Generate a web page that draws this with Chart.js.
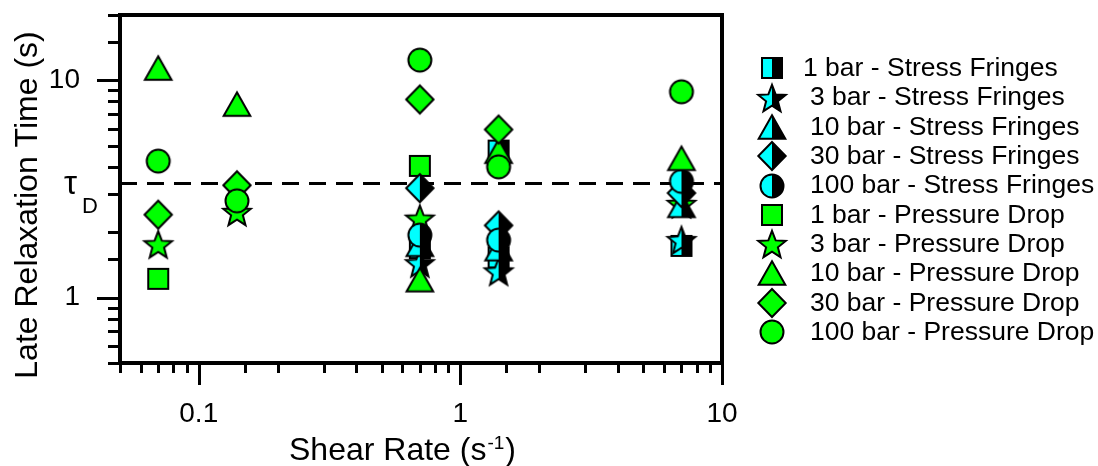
<!DOCTYPE html>
<html>
<head>
<meta charset="utf-8">
<script src="https://cdn.jsdelivr.net/npm/chart.js@4/dist/chart.umd.min.js"></script>
<style>
	body { margin: 0; background: #fff; }
	canvas { display: block; }
</style>
</head>
<body>
<canvas id="plot" width="1098" height="466"></canvas>
<script>
// values (shear rate in 1/s, relaxation time in s)
var sf1X = [0.7, 1.4, 1.4, 7];
var sf1Y = [1.69, 4.75, 1.53, 1.73];
var sf3X = [0.7, 1.4, 7];
var sf3Y = [1.44, 1.32, 1.84];
var sf10X = [0.7, 1.4, 7];
var sf10Y = [1.76, 1.68, 2.66];
var sf30X = [0.7, 1.4, 7];
var sf30Y = [3.19, 2.15, 3.03];
var sf100X = [0.7, 1.4, 7];
var sf100Y = [1.94, 1.84, 3.43];
var pd1X = [0.07, 0.7];
var pd1Y = [1.22, 4.04];
var pd3X = [0.07, 0.14, 0.7, 7];
var pd3Y = [1.76, 2.48, 2.31, 2.7];
var pd10X = [0.07, 0.14, 0.7, 1.4, 7];
var pd10Y = [11.4, 7.78, 1.21, 4.72, 4.38];
var pd30X = [0.07, 0.14, 0.7, 1.4];
var pd30Y = [2.41, 3.29, 8.17, 5.94];
var pd100X = [0.07, 0.14, 0.7, 1.4, 7];
var pd100Y = [4.25, 2.79, 12.4, 4.0, 8.86];
var tauD = 3.35;

var seriesLabels = [
	"1 bar - Stress Fringes", "3 bar - Stress Fringes", "10 bar - Stress Fringes",
	"30 bar - Stress Fringes", "100 bar - Stress Fringes",
	"1 bar - Pressure Drop", "3 bar - Pressure Drop", "10 bar - Pressure Drop",
	"30 bar - Pressure Drop", "100 bar - Pressure Drop"
];
var xTickLabels = [0.1, 1, 10];
var yTickLabels = [1, 10];
var xRange = [0.05, 10];
var yRange = [0.5, 20];

var FONT = "'Liberation Sans', Arial, sans-serif";
var GREEN = "#00ff00";
var CYAN = "#00ffff";

function shapePath(ctx, shape) {
	ctx.beginPath();
	if (shape == "square") {
		ctx.rect(-10, -10, 20, 20);
	} else if (shape == "circle") {
		ctx.arc(0, 0, 11.5, 0, Math.PI * 2);
	} else if (shape == "triangle") {
		ctx.moveTo(0, -11.7);
		ctx.lineTo(13.3, 11.7);
		ctx.lineTo(-13.3, 11.7);
		ctx.closePath();
	} else if (shape == "diamond") {
		ctx.moveTo(0, -14);
		ctx.lineTo(13.7, 0);
		ctx.lineTo(0, 14);
		ctx.lineTo(-13.7, 0);
		ctx.closePath();
	} else if (shape == "star") {
		var R = 14.5, r = 6.2;
		for (var i = 0; i < 10; i++) {
			var a = -Math.PI / 2 + i * Math.PI / 5;
			var rad = (i % 2 == 0) ? R : r;
			var px = Math.cos(a) * rad, py = Math.sin(a) * rad + 1.4;
			if (i == 0) ctx.moveTo(px, py); else ctx.lineTo(px, py);
		}
		ctx.closePath();
	}
}

// marker bitmaps used as chart.js point styles
function makeMarker(shape, half) {
	var c = document.createElement("canvas");
	c.width = 34; c.height = 34;
	var ctx = c.getContext("2d");
	ctx.translate(17, 17);
	shapePath(ctx, shape);
	if (half) {
		ctx.fillStyle = CYAN;
		ctx.fill();
		ctx.save();
		ctx.beginPath();
		ctx.rect(0, -17, 17, 34);
		ctx.clip();
		shapePath(ctx, shape);
		ctx.fillStyle = "#000";
		ctx.fill();
		ctx.restore();
		shapePath(ctx, shape);
	} else {
		ctx.fillStyle = GREEN;
		ctx.fill();
	}
	ctx.lineWidth = 2;
	ctx.lineJoin = "miter";
	ctx.strokeStyle = "#000";
	ctx.stroke();
	return c;
}

function toPoints(xs, ys) {
	var pts = [];
	for (var i = 0; i < xs.length; i++) pts.push({x: xs[i], y: ys[i]});
	return pts;
}

var shapes = ["square", "star", "triangle", "diamond", "circle"];
var seriesX = [sf1X, sf3X, sf10X, sf30X, sf100X, pd1X, pd3X, pd10X, pd30X, pd100X];
var seriesY = [sf1Y, sf3Y, sf10Y, sf30Y, sf100Y, pd1Y, pd3Y, pd10Y, pd30Y, pd100Y];
// higher order = drawn further back
var drawOrder = [8, 7, 6, 5, 4, 10, 9, 3, 2, 1];
var markers = [];

var datasets = [];
for (var i = 0; i < 10; i++) {
	markers.push(makeMarker(shapes[i % 5], i < 5));
	datasets.push({
		label: seriesLabels[i],
		data: toPoints(seriesX[i], seriesY[i]),
		pointStyle: markers[i],
		pointRadius: 12,
		order: drawOrder[i]
	});
}
datasets.push({
	type: "line",
	label: "tauD",
	data: [{x: xRange[0], y: tauD}, {x: xRange[1], y: tauD}],
	borderColor: "#000",
	borderWidth: 3,
	borderDash: [17, 10],
	pointRadius: 0,
	order: 20
});

function isDecade(v) {
	var l = Math.log10(v);
	return Math.abs(l - Math.round(l)) < 1e-6;
}

function labelFor(list) {
	return function (v) {
		for (var i = 0; i < list.length; i++) {
			if (Math.abs(v - list[i]) < list[i] * 1e-6) return String(list[i]);
		}
		return "";
	};
}

var framePlugin = {
	id: "frame",
	afterDraw: function (chart) {
		var ctx = chart.ctx, a = chart.chartArea;
		var xs = chart.scales.x, ys = chart.scales.y;
		ctx.save();
		ctx.strokeStyle = "#000";
		ctx.lineWidth = 3;
		ctx.beginPath();
		xs.ticks.forEach(function (t) {
			var px = Math.round(xs.getPixelForValue(t.value)) + 0.5;
			ctx.moveTo(px, a.bottom);
			ctx.lineTo(px, a.bottom + (isDecade(t.value) ? 22 : 10));
		});
		ys.ticks.forEach(function (t) {
			var py = Math.round(ys.getPixelForValue(t.value)) + 0.5;
			ctx.moveTo(a.left, py);
			ctx.lineTo(a.left - (isDecade(t.value) ? 23 : 12), py);
		});
		ctx.stroke();
		ctx.lineWidth = 4;
		ctx.strokeRect(a.left, a.top, a.right - a.left, a.bottom - a.top);

		ctx.fillStyle = "#000";
		// tau_D marker next to the dashed line
		var ty = ys.getPixelForValue(tauD);
		ctx.textAlign = "left";
		ctx.textBaseline = "alphabetic";
		ctx.font = "33px " + FONT;
		ctx.fillText("\u03c4", 64, ty + 10);
		ctx.font = "22px " + FONT;
		ctx.fillText("D", 82, ty + 29);

		// axis titles
		ctx.font = "32px " + FONT;
		ctx.fillText("Shear Rate (s", 289, 460);
		var w = ctx.measureText("Shear Rate (s").width;
		ctx.font = "19px " + FONT;
		ctx.fillText("-1", 289 + w + 1, 449);
		var w2 = ctx.measureText("-1").width;
		ctx.font = "32px " + FONT;
		ctx.fillText(")", 289 + w + w2 + 2, 460);

		ctx.save();
		ctx.translate(37, 205);
		ctx.rotate(-Math.PI / 2);
		ctx.textAlign = "center";
		ctx.fillText("Late Relaxation Time (s)", 0, 0);
		ctx.restore();

		// legend, text slightly wider than the plain font as in the figure
		ctx.font = "25px " + FONT;
		ctx.textBaseline = "middle";
		for (var i = 0; i < 10; i++) {
			var ry = 68.3 + i * 29.3;
			ctx.drawImage(markers[i], 772 - 17, Math.round(ry) - 17);
			ctx.save();
			ctx.translate(i == 0 ? 803 : 810, ry + 1);
			ctx.scale(1.06, 1);
			ctx.fillText(seriesLabels[i], 0, 0);
			ctx.restore();
		}
		ctx.restore();
	}
};

var tickFont = {family: FONT, size: 28};

var chart = new Chart(document.getElementById("plot"), {
	type: "scatter",
	data: {datasets: datasets},
	options: {
		responsive: false,
		animation: false,
		events: [],
		layout: {padding: {top: 15, right: 376, left: 0, bottom: 0}},
		plugins: {legend: {display: false}, tooltip: {enabled: false}},
		scales: {
			x: {
				type: "logarithmic",
				min: xRange[0],
				max: xRange[1],
				grid: {display: false, drawTicks: false},
				border: {display: false},
				ticks: {autoSkip: false, maxRotation: 0, padding: 34, color: "#000", font: tickFont, callback: labelFor(xTickLabels)},
				afterFit: function (s) { s.height = 103; s.paddingLeft = 0; s.paddingRight = 0; }
			},
			y: {
				type: "logarithmic",
				min: yRange[0],
				max: yRange[1],
				grid: {display: false, drawTicks: false},
				border: {display: false},
				ticks: {autoSkip: false, padding: 40, color: "#000", font: tickFont, callback: labelFor(yTickLabels)},
				afterFit: function (s) { s.width = 120; s.paddingTop = 0; s.paddingBottom = 0; }
			}
		}
	},
	plugins: [framePlugin]
});
</script>
</body>
</html>
